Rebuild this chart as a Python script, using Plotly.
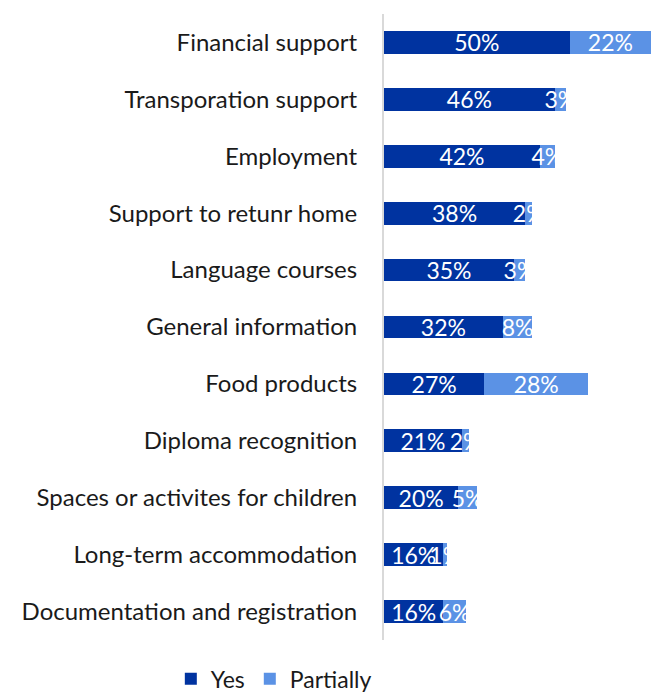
import plotly.graph_objects as go

# Services and share of respondents
categories = [
    "Financial support",
    "Transporation support",
    "Employment",
    "Support to retunr home",
    "Language courses",
    "General information",
    "Food products",
    "Diploma recognition",
    "Spaces or activites for children",
    "Long-term accommodation",
    "Documentation and registration",
]
yes_values = [50, 46, 42, 38, 35, 32, 27, 21, 20, 16, 16]
partial_values = [22, 3, 4, 2, 3, 8, 28, 2, 5, 1, 6]

DARK = "#0033A0"
LIGHT = "#5B92E5"
FONT = "Lato"

fig = go.Figure()
for name, vals, color in [("Yes", yes_values, DARK), ("Partially", partial_values, LIGHT)]:
    fig.add_trace(go.Bar(
        y=categories,
        x=vals,
        name=name,
        orientation="h",
        marker=dict(color=color, line=dict(width=0)),
        text=[f"{v}%" for v in vals],
        textposition="inside",
        insidetextanchor="middle",
        textangle=0,
        constraintext="none",
        textfont=dict(family=FONT, size=23, color="white"),
        cliponaxis=False,
    ))

fig.update_layout(
    width=652,
    height=694,
    barmode="stack",
    bargap=0.6,
    plot_bgcolor="white",
    paper_bgcolor="white",
    margin=dict(l=384, r=0, t=14, b=54, pad=0),
    font=dict(family=FONT, size=24, color="#1a1a1a"),
    showlegend=True,
    legend=dict(
        orientation="h",
        xref="container", yref="container",
        x=0.262, y=0.022, xanchor="left", yanchor="middle",
        font=dict(family=FONT, size=23, color="#1a1a1a"),
        itemclick=False,
        traceorder="normal",
    ),
)
fig.update_xaxes(range=[0, 72.2], visible=False, fixedrange=True)
fig.update_yaxes(
    autorange="reversed",
    showline=True,
    linecolor="#D9D9D9",
    linewidth=2,
    ticks="",
    showgrid=False,
    zeroline=False,
    ticklabelstandoff=20,
    tickfont=dict(family=FONT, size=24, color="#1a1a1a"),
)

fig.write_html("out.html")
